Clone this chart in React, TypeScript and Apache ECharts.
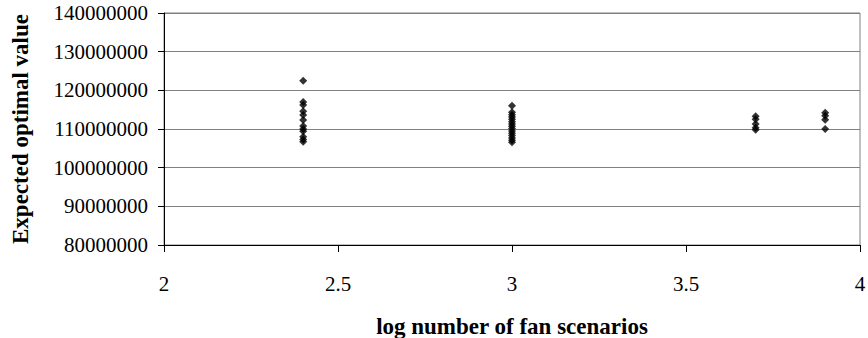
import React, { useEffect, useRef } from "react";
import * as echarts from "echarts";

// log10 of the number of fan scenarios, one entry per run group
const scenarioLogs = [2.4, 3, 3.7, 3.9];

// expected optimal values observed for each scenario count
const valuesAt24 = [
  122500000, 117000000, 116200000, 114600000, 113600000, 112300000,
  110800000, 110000000, 109400000, 108000000, 107300000, 106700000,
];
const valuesAt30 = [
  116000000, 114300000, 113700000, 113100000, 112500000, 111900000,
  111300000, 110700000, 110100000, 109500000, 108900000, 108300000,
  107700000, 107100000, 106600000,
];
const valuesAt37 = [113300000, 112500000, 111300000, 110300000, 109800000];
const valuesAt39 = [114200000, 113400000, 112400000, 110000000];

const groups = [valuesAt24, valuesAt30, valuesAt37, valuesAt39];

const xTitle = "log number of fan scenarios";
const yTitle = "Expected optimal value";

const points: [number, number][] = [];
groups.forEach((vals, i) => {
  vals.forEach((v) => points.push([scenarioLogs[i], v]));
});

const font = "Liberation Serif";

export default function App() {
  const ref = useRef<HTMLDivElement>(null);

  useEffect(() => {
    if (!ref.current) return;
    const chart = echarts.init(ref.current, undefined, { renderer: "svg" });
    chart.setOption({
      animation: false,
      backgroundColor: "#ffffff",
      textStyle: { fontFamily: font, color: "#000" },
      grid: {
        left: 164,
        right: 8,
        top: 13,
        bottom: 93,
        outerBoundsMode: "none",
        containLabel: false,
        show: true,
        borderColor: "#808080",
        borderWidth: 1,
      },
      xAxis: {
        type: "value",
        min: 2,
        max: 4,
        interval: 0.5,
        name: xTitle,
        nameLocation: "middle",
        nameGap: 70,
        nameTextStyle: {
          fontFamily: font,
          fontWeight: "bold",
          fontSize: 23,
          color: "#000",
        },
        axisLine: { show: true, lineStyle: { color: "#000", width: 1 } },
        axisTick: { show: true, length: 7, lineStyle: { color: "#000" } },
        splitLine: { show: false },
        axisLabel: {
          fontFamily: font,
          fontSize: 21,
          color: "#000",
          margin: 28,
          formatter: (v: number) => String(v),
        },
      },
      yAxis: {
        type: "value",
        min: 80000000,
        max: 140000000,
        interval: 10000000,
        name: yTitle,
        nameLocation: "middle",
        nameGap: 132,
        nameRotate: 90,
        nameTextStyle: {
          fontFamily: font,
          fontWeight: "bold",
          fontSize: 23,
          color: "#000",
        },
        axisLine: { show: true, lineStyle: { color: "#000", width: 1 } },
        axisTick: { show: true, length: 6, lineStyle: { color: "#000" } },
        splitLine: { show: true, lineStyle: { color: "#808080", width: 1 } },
        axisLabel: {
          fontFamily: font,
          fontSize: 21,
          color: "#000",
          margin: 16,
          formatter: (v: number) => String(v),
        },
      },
      series: [
        {
          type: "scatter",
          data: points,
          symbol: "diamond",
          symbolSize: 8,
          itemStyle: { color: "#000" },
        },
      ],
    });
    return () => chart.dispose();
  }, []);

  return (
    <div
      ref={ref}
      style={{ position: "fixed", left: 0, top: 0, width: 868, height: 338 }}
    />
  );
}
